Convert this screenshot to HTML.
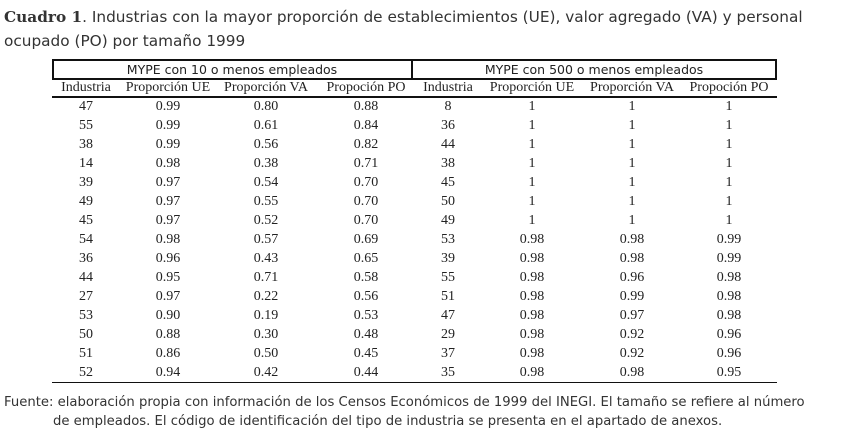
<!DOCTYPE html>
<html><head><meta charset="utf-8"><style>
body{margin:0;width:855px;height:444px;background:#fff;position:relative;overflow:hidden;font-family:"Liberation Serif",serif;color:#222}
.a{position:absolute;white-space:nowrap}
.t{font-family:"DejaVu Sans","Liberation Sans",sans-serif;font-size:15.3px;color:#333}
.c{position:absolute;transform:translateX(-50%);font-size:14px;white-space:nowrap}
.ln{position:absolute;background:#111}
.f{font-family:"DejaVu Sans","Liberation Sans",sans-serif;font-size:13.2px;color:#333}
</style></head><body>
<div class="a t" style="left:4px;top:8px"><b style="font-family:'DejaVu Serif',serif">Cuadro 1</b>. Industrias con la mayor proporción de establecimientos (UE), valor agregado (VA) y personal</div>
<div class="a t" style="left:4px;top:32px">ocupado (PO) por tamaño 1999</div>

<div class="ln" style="left:52px;top:59px;width:725px;height:2px"></div>
<div class="ln" style="left:52px;top:78px;width:725px;height:2px"></div>
<div class="ln" style="left:52px;top:59px;width:2px;height:21px"></div>
<div class="ln" style="left:775px;top:59px;width:2px;height:21px"></div>
<div class="ln" style="left:411px;top:59px;width:2px;height:21px"></div>
<div class="ln" style="left:52px;top:96px;width:725px;height:2px"></div>
<div class="ln" style="left:52px;top:382px;width:725px;height:1px"></div>

<div class="c" style="left:232px;top:62px;font-family:'DejaVu Sans',sans-serif;font-size:12.5px">MYPE con 10 o menos empleados</div>
<div class="c" style="left:594px;top:62px;font-family:'DejaVu Sans',sans-serif;font-size:12.5px">MYPE con 500 o menos empleados</div>

<div id="tb"></div>
<script>
const headers=["Industria","Proporción UE","Proporción VA","Propoción PO","Industria","Proporción UE","Proporción VA","Propoción PO"];
const centers=[86,168,266,366,448,532,632,729];
const indA=["47","55","38","14","39","49","45","54","36","44","27","53","50","51","52"];
const ueA=["0.99","0.99","0.99","0.98","0.97","0.97","0.97","0.98","0.96","0.95","0.97","0.90","0.88","0.86","0.94"];
const vaA=["0.80","0.61","0.56","0.38","0.54","0.55","0.52","0.57","0.43","0.71","0.22","0.19","0.30","0.50","0.42"];
const poA=["0.88","0.84","0.82","0.71","0.70","0.70","0.70","0.69","0.65","0.58","0.56","0.53","0.48","0.45","0.44"];
const indB=["8","36","44","38","45","50","49","53","39","55","51","47","29","37","35"];
const ueB=["1","1","1","1","1","1","1","0.98","0.98","0.98","0.98","0.98","0.98","0.98","0.98"];
const vaB=["1","1","1","1","1","1","1","0.98","0.98","0.96","0.99","0.97","0.92","0.92","0.98"];
const poB=["1","1","1","1","1","1","1","0.99","0.99","0.98","0.98","0.98","0.96","0.96","0.95"];
const cols=[indA,ueA,vaA,poA,indB,ueB,vaB,poB];
const tb=document.getElementById('tb');
headers.forEach((h,i)=>{const d=document.createElement('div');d.className='c';


d.style.left=centers[i]+'px';d.style.top='80px';d.textContent=h;tb.appendChild(d);});
cols.forEach((col,i)=>col.forEach((v,r)=>{const d=document.createElement('div');d.className='c';


d.style.left=centers[i]+'px';d.style.top=(99+r*19)+'px';d.textContent=v;tb.appendChild(d);}));
</script>

<div class="a f" style="left:4px;top:395px">Fuente: elaboración propia con información de los Censos Económicos de 1999 del INEGI. El tamaño se refiere al número</div>
<div class="a f" style="left:53px;top:414px">de empleados. El código de identificación del tipo de industria se presenta en el apartado de anexos.</div>
</body></html>
